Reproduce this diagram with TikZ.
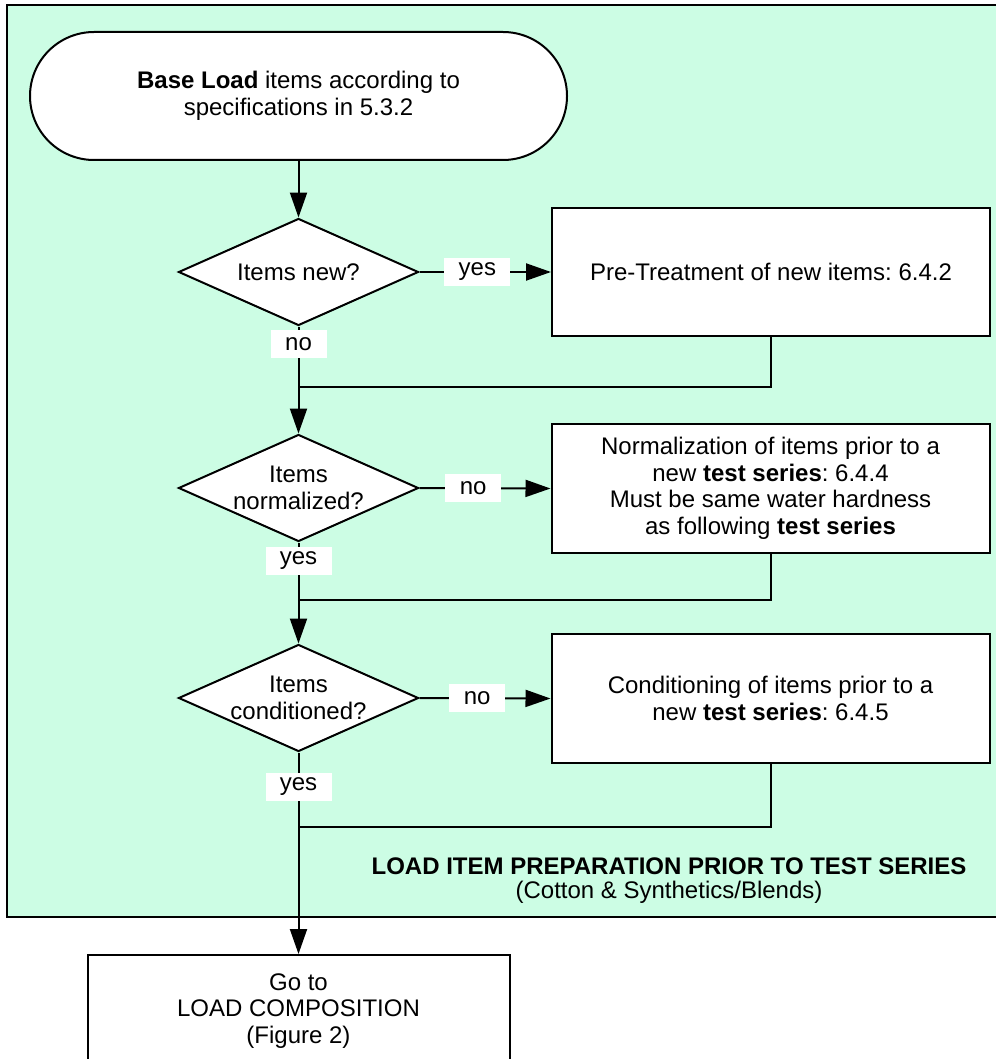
\documentclass[tikz,border=0pt]{standalone}
\usepackage{fontspec}
\setmainfont{Liberation Sans}
\frenchspacing
\usetikzlibrary{shapes.geometric,arrows.meta}
\definecolor{mint}{HTML}{CCFDE4}
\tikzset{
  base/.style={font=\fontsize{24}{26.5}\selectfont, align=center},
  lw/.style={line width=2pt},
  term/.style={base, lw, draw, fill=white, rounded corners=64pt, minimum width=537pt, minimum height=128pt, inner sep=0pt},
  decision/.style={base, lw, draw, fill=white, diamond, aspect=2.24, minimum width=240pt, minimum height=107pt, inner sep=0pt},
  process/.style={base, lw, draw, fill=white, rectangle, minimum width=438pt, minimum height=128pt, inner sep=0pt},
  lbl/.style={base, fill=white, inner sep=0pt, minimum height=28pt},
  conn/.style={lw, -{Triangle[length=25pt,width=17pt]}},
  line/.style={lw}
}
\begin{document}
\begin{tikzpicture}[x=1pt,y=-1pt]
\useasboundingbox (0,0) rectangle (995,1059);
\fill[white] (0,0) rectangle (995,1059);
\draw[lw, fill=mint] (7,5) rectangle (1010,917);

\node[term] (start) at (298.5,96) {\textbf{Base Load} items according to\\specifications in 5.3.2};

\node[decision] (d1) at (298.5,272) {Items new?};
\node[process] (b1) at (771,272) {Pre-Treatment of new items: 6.4.2};
\coordinate (j1) at (298.5,387);

\node[decision] (d2) at (298.5,488) {Items\\normalized?};
\node[process, minimum height=129pt] (b2) at (770.5,488.5) {Normalization of items prior to a\\new \textbf{test series}: 6.4.4\\Must be same water hardness\\as following \textbf{test series}};
\coordinate (j2) at (298.5,600);

\node[decision] (d3) at (298.5,698) {Items\\conditioned?};
\node[process, minimum height=129pt] (b3) at (770.5,698.5) {Conditioning of items prior to a\\new \textbf{test series}: 6.4.5};
\coordinate (j3) at (298.5,827);

\node[base, lw, draw, fill=white, minimum width=422pt, minimum height=112pt, inner sep=0pt] (goto) at (298.5,1011) {Go to\\LOAD COMPOSITION\\(Figure 2)};

\node[base] (title) at (669,866) {\textbf{LOAD ITEM PREPARATION PRIOR TO TEST SERIES}};
\node[base] (sub) at (669,892) {(Cotton \& Synthetics/Blends)};

% connectors
\draw[conn] (start) -- (d1);
\draw[conn] (d1.east) -- node[lbl, minimum width=66pt, pos=0.44] {yes} (b1.west);
\draw[conn] (d1.south) -- node[lbl, minimum width=56pt, pos=0.165] {no} (d2.north);
\draw[line] (b1.south) |- (j1);

\draw[conn] (d2.east) -- node[lbl, minimum width=56pt, pos=0.41] {no} (b2.west);
\draw[conn] (d2.south) -- node[lbl, minimum width=66pt, pos=0.18] {yes} (d3.north);
\draw[line] (b2.south) |- (j2);

\draw[conn] (d3.east) -- node[lbl, minimum width=56pt, pos=0.44] {no} (b3.west);
\draw[conn] (d3.south) -- node[lbl, minimum width=66pt, pos=0.17] {yes} (goto.north);
\draw[line] (b3.south) |- (j3);
\end{tikzpicture}
\end{document}
